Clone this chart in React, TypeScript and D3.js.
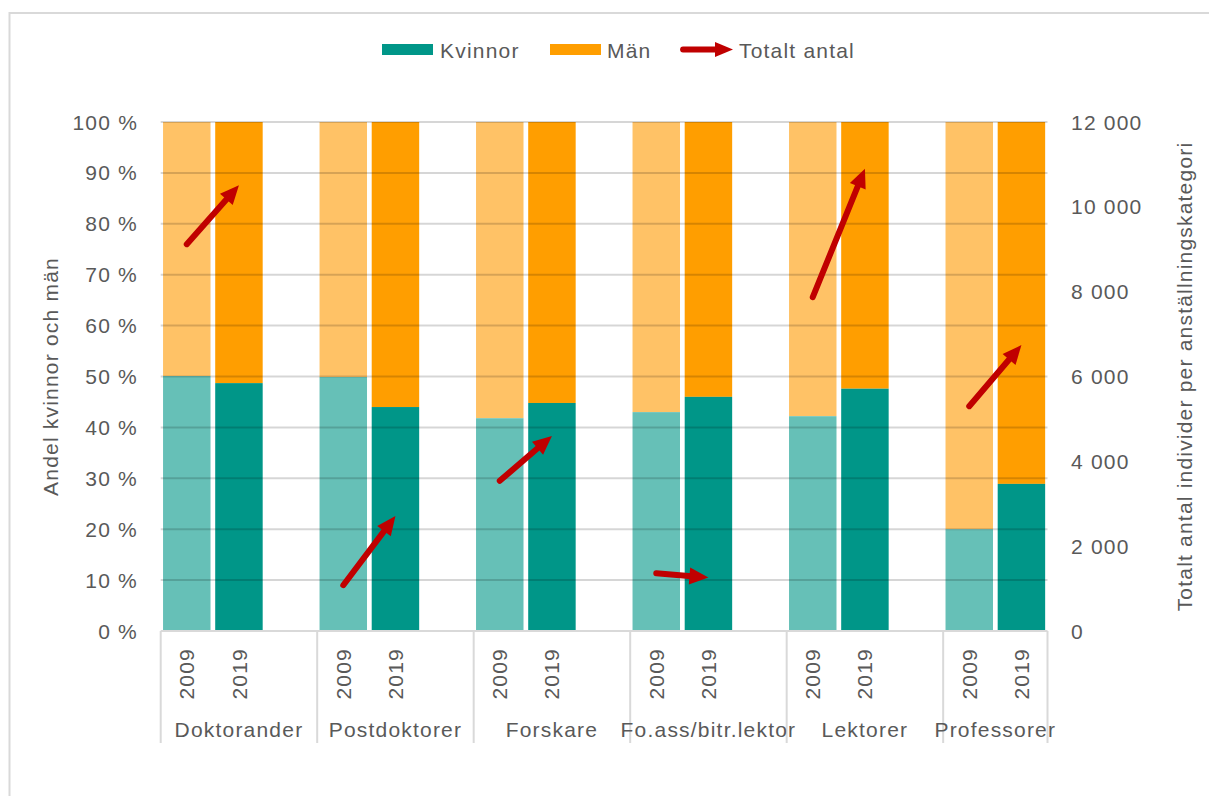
import * as d3 from 'd3';

const categories = ['Doktorander', 'Postdoktorer', 'Forskare', 'Fo.ass/bitr.lektor', 'Lektorer', 'Professorer'];
const years = ['2009', '2019'];
// andel kvinnor (%), män = 100 - kvinnor
const kvinnor2009 = [50.1, 49.9, 41.8, 43.0, 42.2, 20.0];
const kvinnor2019 = [48.7, 44.0, 44.8, 46.0, 47.6, 28.9];
// totalt antal individer per kategori
const total2009 = [9120, 1080, 3540, 1360, 7870, 5300];
const total2019 = [10510, 2710, 4600, 1260, 10900, 6740];
const pctTicks = [0, 10, 20, 30, 40, 50, 60, 70, 80, 90, 100];
const countTicks = [0, 2000, 4000, 6000, 8000, 10000, 12000];

const W = 1209;
const H = 796;
const left = 160.7;
const right = 1047.5;
const top = 122;
const bottom = 631;

const txt = '#595959';
const grid = 'rgba(0,0,0,0.16)';
const axisGray = '#d9d9d9';
const teal = '#009688';
const tealLight = '#66c0b7';
const orange = '#ff9e00';
const orangeLight = '#ffc266';
const red = '#c00000';
const font = '"Liberation Sans", Arial, sans-serif';

// 3 slots per category (2009, 2019, gap), last gap dropped
const slots = d3.range(categories.length * 3 - 1).map(String);
const x = d3.scaleBand<string>().domain(slots).range([left, right]).paddingInner(0.09).paddingOuter(0.045);
const step = x.step();
const slotX0 = (i: number) => left + i * step;
const yPct = d3.scaleLinear().domain([0, 100]).range([bottom, top]);
const yCount = d3.scaleLinear().domain([0, 12000]).range([bottom, top]);
const fmtCount = (v: number) => d3.format(',')(v).replace(/,/g, ' ');

function Arrow({ x1, y1, x2, y2, w = 6, len = 19, half = 8.5 }: { x1: number; y1: number; x2: number; y2: number; w?: number; len?: number; half?: number }) {
  const dx = x2 - x1;
  const dy = y2 - y1;
  const d = Math.hypot(dx, dy);
  const ux = dx / d;
  const uy = dy / d;
  const bx = x2 - ux * len;
  const by = y2 - uy * len;
  const px = -uy * half;
  const py = ux * half;
  return (
    <g>
      <line x1={x1} y1={y1} x2={bx + ux * 2} y2={by + uy * 2} stroke={red} strokeWidth={w} strokeLinecap="round" />
      <polygon points={`${x2},${y2} ${bx + px},${by + py} ${bx - px},${by - py}`} fill={red} />
    </g>
  );
}

export default function App() {
  const textStyle = { fontFamily: font, fontSize: 21, letterSpacing: '1.2px', fill: txt } as const;
  const bars = categories.flatMap((c, i) =>
    years.map((yr, j) => {
      const k = j === 0 ? kvinnor2009[i] : kvinnor2019[i];
      return { c, i, yr, j, k, key: String(i * 3 + j) };
    }),
  );
  const catBounds = categories.map((_, i) => slotX0(i * 3)).concat([right]);

  return (
    <svg width={W} height={H} style={{ position: 'absolute', left: 0, top: 0, background: '#fff' }}>
      <rect x={9.5} y={13} width={W + 20} height={H + 20} fill="#fff" stroke={axisGray} strokeWidth={2} />

      {/* legend */}
      <rect x={382} y={44} width={51} height={11} fill={teal} />
      <text x={440} y={57.5} style={textStyle}>Kvinnor</text>
      <rect x={550} y={44} width={51} height={11} fill={orange} />
      <text x={607} y={57.5} style={textStyle}>Män</text>
      <Arrow x1={683} y1={49.5} x2={733} y2={49.5} w={5.8} len={18} half={7.5} />
      <text x={739} y={57.5} style={textStyle}>Totalt antal</text>

      {/* bars */}
      {bars.map((b) => (
        <g key={b.key}>
          <rect x={x(b.key)} width={x.bandwidth()} y={yPct(100)} height={yPct(b.k) - yPct(100)} fill={b.j === 0 ? orangeLight : orange} />
          <rect x={x(b.key)} width={x.bandwidth()} y={yPct(b.k)} height={yPct(0) - yPct(b.k)} fill={b.j === 0 ? tealLight : teal} />
        </g>
      ))}

      {/* gridlines on top */}
      {pctTicks.filter((t) => t > 0).map((t) => (
        <line key={t} x1={left} x2={right} y1={yPct(t)} y2={yPct(t)} stroke={grid} strokeWidth={2} />
      ))}

      {/* category axis */}
      <line x1={left} x2={right} y1={bottom} y2={bottom} stroke={axisGray} strokeWidth={2} />
      {catBounds.map((bx, i) => (
        <line key={i} x1={bx} x2={bx} y1={bottom} y2={743} stroke={axisGray} strokeWidth={2} />
      ))}
      {bars.map((b) => {
        const cx = (x(b.key) ?? 0) + x.bandwidth() / 2;
        return (
          <text key={b.key} transform={`translate(${cx},648) rotate(-90)`} dy="0.36em" textAnchor="end" style={textStyle}>
            {b.yr}
          </text>
        );
      })}
      {categories.map((c, i) => (
        <text key={c} x={(catBounds[i] + catBounds[i + 1]) / 2} y={737} textAnchor="middle" style={textStyle}>
          {c}
        </text>
      ))}

      {/* left axis */}
      {pctTicks.map((t) => (
        <text key={t} x={138} y={yPct(t)} dy="0.36em" textAnchor="end" style={textStyle}>
          {`${t} %`}
        </text>
      ))}
      <text transform={`translate(50,${(top + bottom) / 2}) rotate(-90)`} dy="0.36em" textAnchor="middle" style={textStyle}>
        Andel kvinnor och män
      </text>

      {/* right axis */}
      {countTicks.map((t) => (
        <text key={t} x={1071} y={yCount(t)} dy="0.36em" textAnchor="start" style={textStyle}>
          {fmtCount(t)}
        </text>
      ))}
      <text transform={`translate(1184,${(top + bottom) / 2}) rotate(-90)`} dy="0.36em" textAnchor="middle" style={textStyle}>
        Totalt antal individer per anställningskategori
      </text>

      {/* arrows: totalt antal 2009 -> 2019 */}
      {categories.map((c, i) => {
        const a = x(String(i * 3))! + x.bandwidth() / 2;
        const b = x(String(i * 3 + 1))! + x.bandwidth() / 2;
        return <Arrow key={c} x1={a} y1={yCount(total2009[i])} x2={b} y2={yCount(total2019[i])} />;
      })}
    </svg>
  );
}
